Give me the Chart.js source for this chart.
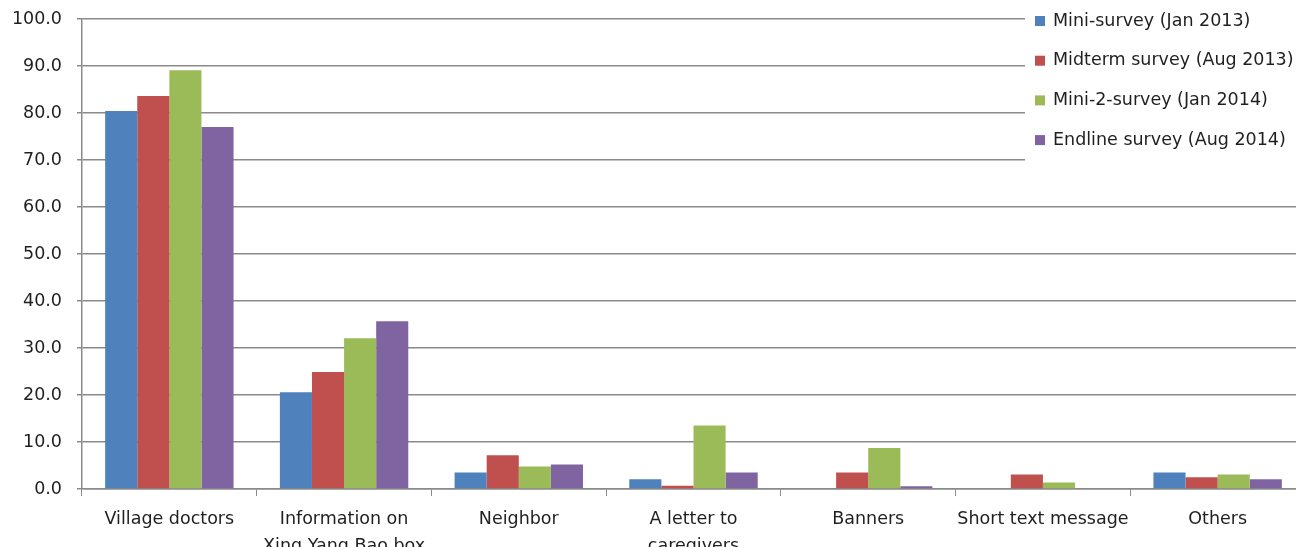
<!DOCTYPE html>
<html>
<head>
<meta charset="utf-8">
<script src="https://cdn.jsdelivr.net/npm/chart.js@4/dist/chart.umd.min.js"></script>
<style>
html,body{margin:0;padding:0;background:#fff;overflow:hidden;}
#wrap{width:1305px;height:547px;}
</style>
</head>
<body>
<div id="wrap"><canvas id="c" width="1305" height="547"></canvas></div>
<script>
const categories = [
  "Village doctors",
  ["Information on", "Xing Yang Bao box"],
  "Neighbor",
  ["A letter to", "caregivers"],
  "Banners",
  "Short text message",
  "Others"
];
const seriesNames = [
  "Mini-survey (Jan 2013)",
  "Midterm survey (Aug 2013)",
  "Mini-2-survey (Jan 2014)",
  "Endline survey (Aug 2014)"
];
const miniSurvey2013   = [80.4, 20.6, 3.5, 2.1, 0.0, 0.0, 3.5];
const midterm2013      = [83.6, 24.9, 7.2, 0.7, 3.5, 3.1, 2.5];
const mini2Survey2014  = [89.1, 32.1, 4.8, 13.5, 8.7, 1.4, 3.1];
const endline2014      = [77.0, 35.7, 5.2, 3.5, 0.6, 0.0, 2.1];
const yTicks = [0, 10, 20, 30, 40, 50, 60, 70, 80, 90, 100];

const colors = ["#4F81BD", "#C0504D", "#9BBB59", "#8064A2"];
const seriesValues = [miniSurvey2013, midterm2013, mini2Survey2014, endline2014];
const FONT = "'DejaVu Sans', sans-serif";
const TEXT = "#1f1f1f";
const GRID = "#8a8a8a";

const legendPlugin = {
  id: 'customLegend',
  afterDraw(chart) {
    const ctx = chart.ctx;
    ctx.save();
    ctx.fillStyle = '#ffffff';
    ctx.fillRect(1025, 0, chart.width - 1025, 170);
    ctx.font = "17.5px " + FONT;
    ctx.textBaseline = 'middle';
    ctx.textAlign = 'left';
    chart.data.datasets.forEach((ds, i) => {
      const y = 21 + i * 39.7;
      ctx.fillStyle = ds.backgroundColor;
      ctx.fillRect(1035, y - 5, 10, 10);
      ctx.fillStyle = TEXT;
      ctx.fillText(ds.label, 1053, y);
    });
    ctx.restore();
  }
};

new Chart(document.getElementById('c'), {
  type: 'bar',
  data: {
    labels: categories,
    datasets: seriesNames.map((name, i) => ({
      label: name,
      data: seriesValues[i],
      backgroundColor: colors[i],
      borderWidth: 0,
      barPercentage: 1.0,
      categoryPercentage: 0.735
    }))
  },
  options: {
    responsive: false,
    animation: false,
    layout: { padding: { top: 19, left: 0, right: 0, bottom: 0 } },
    plugins: {
      legend: { display: false },
      tooltip: { enabled: false }
    },
    scales: {
      x: {
        offset: true,
        grid: {
          display: true,
          drawOnChartArea: false,
          drawTicks: true,
          tickLength: 7,
          color: GRID,
          offset: true
        },
        border: { display: true, color: GRID, width: 1.5 },
        ticks: {
          color: TEXT,
          font: { family: FONT, size: 17.5, lineHeight: 1.55 },
          padding: 10,
          maxRotation: 0,
          autoSkip: false
        },
        afterFit(axis) { axis.height = 58; }
      },
      y: {
        min: 0,
        max: 100,
        afterBuildTicks(axis) { axis.ticks = yTicks.map(v => ({ value: v })); },
        grid: {
          color: GRID,
          lineWidth: 1.5,
          tickLength: 5,
          drawTicks: true
        },
        border: { display: true, color: GRID, width: 1.5 },
        ticks: {
          color: TEXT,
          font: { family: FONT, size: 17.5 },
          padding: 15,
          callback: v => Number(v).toFixed(1)
        },
        afterFit(axis) { axis.width = 82; axis.paddingTop = 0; axis.paddingBottom = 0; }
      }
    }
  },
  plugins: [legendPlugin]
});
</script>
</body>
</html>
